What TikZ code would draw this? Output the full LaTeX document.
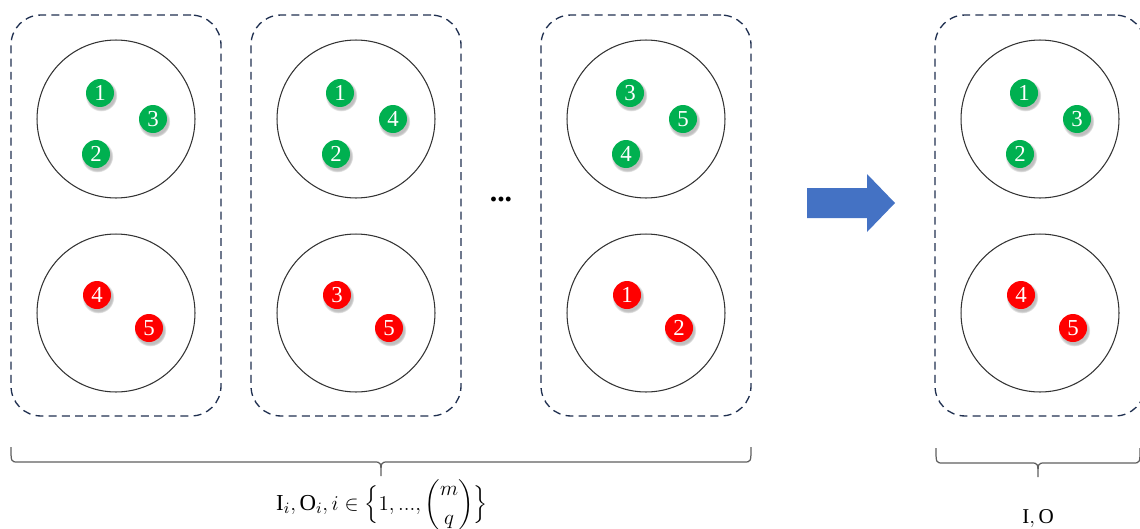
\documentclass[tikz,border=0pt]{standalone}
\usepackage{fontspec}
\setmainfont{Liberation Serif}
\usepackage{amsmath}
\usetikzlibrary{positioning, shadows}
\definecolor{BallGreen}{HTML}{00B050}
\definecolor{BallRed}{HTML}{FF0000}
\definecolor{FrameNavy}{HTML}{203050}
\definecolor{ArrowBlue}{HTML}{4472C4}
\definecolor{BraceGray}{HTML}{606060}

\tikzset{
  panel/.style={draw=FrameNavy, line width=0.75pt, dash pattern=on 4.5pt off 3pt,
    rounded corners=17pt, minimum width=4.2cm, minimum height=8.02cm},
  group/.style={circle, draw=black!80, line width=0.6pt, minimum size=3.16cm, inner sep=0pt},
  ball/.style={circle, minimum size=0.56cm, inner sep=0pt, text=white,
    font=\fontsize{13}{13}\selectfont,
    circular drop shadow={shadow xshift=0.6pt, shadow yshift=-1.2pt,
      shadow scale=1.15, opacity=0.5}},
  inball/.style={ball, fill=BallGreen},
  outball/.style={ball, fill=BallRed},
  bracepath/.style={draw=BraceGray, line width=0.7pt}
}

\begin{document}
\begin{tikzpicture}[x=0.02cm, y=-0.02cm]
    \clip (0,0) rectangle (1140,528);

    % Panels: dashed frame, two groups, numbered balls
    \foreach \px/\ia/\ib/\ic/\oa/\ob [count=\k] in
        {116/1/3/2/4/5, 356/1/4/2/3/5, 646/3/5/4/1/2, 1040/1/3/2/4/5}{
      \node[panel] (panel\k) at (\px,215.5) {};
      \node[group] (in\k) at (\px,119) {};
      \node[group] (out\k) at (\px,313) {};
      \node[inball] (in\k-\ia) at (\px-16,93) {\ia};
      \node[inball] (in\k-\ib) at (\px+37,119) {\ib};
      \node[inball] (in\k-\ic) at (\px-20,154) {\ic};
      \node[outball] (out\k-\oa) at (\px-19,295) {\oa};
      \node[outball] (out\k-\ob) at (\px+33,328) {\ob};
    }

    % Dots between panels
    \node[font=\fontsize{17}{17}\selectfont\bfseries] (dots) at (501,199) {...};

    % Block arrow
    \fill[ArrowBlue] (807,188) -- (867,188) -- (867,174) -- (895,203)
      -- (867,232) -- (867,218) -- (807,218) -- cycle;

    % Braces under the panels
    \draw[bracepath] (11,447) .. controls (11,462) .. (18,462) -- (374,462)
      .. controls (381,462) .. (381,476) .. controls (381,462) .. (388,462)
      -- (744,462) .. controls (751,462) .. (751,447);
    \draw[bracepath] (936,448) .. controls (936,463) .. (943,463) -- (1031,463)
      .. controls (1038,463) .. (1038,477) .. controls (1038,463) .. (1045,463)
      -- (1133,463) .. controls (1140,463) .. (1140,448);

    % Labels
    \node[anchor=base, font=\fontsize{13}{15}\selectfont] (lblall) at (382,510)
      {$\mathrm{I}_i, \mathrm{O}_i, i \in \Bigl\{1, ..., \dbinom{m}{q}\Bigr\}$};
    \node[anchor=base, font=\fontsize{12}{14}\selectfont] (lblone) at (1038,523)
      {$\mathrm{I}, \mathrm{O}$};
  \end{tikzpicture}
\end{document}
